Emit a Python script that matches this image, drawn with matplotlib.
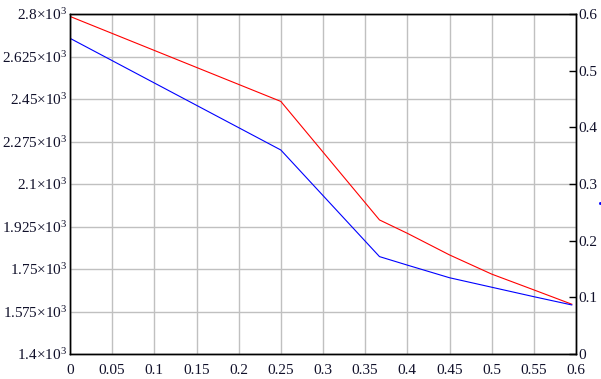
import matplotlib
matplotlib.use("Agg")
import matplotlib.pyplot as plt
from matplotlib.lines import Line2D

# Data
x_red = [0.0, 0.25, 0.367, 0.40, 0.45, 0.50, 0.55, 0.595]
y_red = [2790, 2440, 1952, 1897, 1808, 1729, 1664, 1605]
x_blue = [0.0, 0.25, 0.367, 0.40, 0.45, 0.50, 0.55, 0.595]
y_blue = [2700, 2240, 1801, 1766, 1714, 1675, 1636, 1602]

left_ticks = [1400, 1575, 1750, 1925, 2100, 2275, 2450, 2625, 2800]
left_labels = ["1.4×10$^{3}$", "1.575×10$^{3}$", "1.75×10$^{3}$",
               "1.925×10$^{3}$", "2.1×10$^{3}$", "2.275×10$^{3}$",
               "2.45×10$^{3}$", "2.625×10$^{3}$", "2.8×10$^{3}$"]
x_ticks = [0, 0.05, 0.1, 0.15, 0.2, 0.25, 0.3, 0.35, 0.4, 0.45, 0.5, 0.55, 0.6]
x_labels = ["0", "0.05", "0.1", "0.15", "0.2", "0.25", "0.3", "0.35", "0.4",
            "0.45", "0.5", "0.55", "0.6"]
right_ticks = [0, 0.1, 0.2, 0.3, 0.4, 0.5, 0.6]
right_labels = ["0", "0.1", "0.2", "0.3", "0.4", "0.5", "0.6"]

plt.rcParams['font.family'] = ['Liberation Serif', 'DejaVu Serif']
plt.rcParams['mathtext.fontset'] = 'custom'
plt.rcParams['mathtext.rm'] = 'Liberation Serif'
plt.rcParams['mathtext.it'] = 'Liberation Serif'
plt.rcParams['mathtext.default'] = 'regular'

txt = '#10102a'
W, H = 601, 379
fig = plt.figure(figsize=(W/100, H/100), dpi=100)
ax = fig.add_axes([70/W, 1-354/H, (576-70)/W, (354-14)/H])

ax.plot(x_red, y_red, color='#ff0000', lw=0.8)
ax.plot(x_blue, y_blue, color='#0000ff', lw=0.8)

ax.set_xlim(0, 0.6)
ax.set_ylim(1400, 2800)
ax.set_xticks(x_ticks)
ax.set_xticklabels(x_labels, fontsize=11, color=txt)
ax.set_yticks(left_ticks)
ax.set_yticklabels(left_labels, fontsize=11, color=txt)
ax.tick_params(axis='both', length=0)
ax.tick_params(axis='x', pad=7)
ax.tick_params(axis='y', pad=2)
ax.grid(True, color='#c0c0c0', lw=1)
ax.set_axisbelow(True)
for s in ax.spines.values():
    s.set_color('black')
    s.set_linewidth(1)

ax2 = ax.twinx()
ax2.set_ylim(0, 0.6)
ax2.set_yticks(right_ticks)
ax2.set_yticklabels(right_labels, fontsize=11, color=txt)
ax2.tick_params(axis='y', direction='in', length=5, width=1, pad=2, color='black')
for s in ax2.spines.values():
    s.set_color('black')
    s.set_linewidth(1)

fig.add_artist(Line2D([599.5/W], [1-203/H], marker='s', ms=1, color='#0000ff', lw=0))

fig.savefig('out.png', dpi=100)
